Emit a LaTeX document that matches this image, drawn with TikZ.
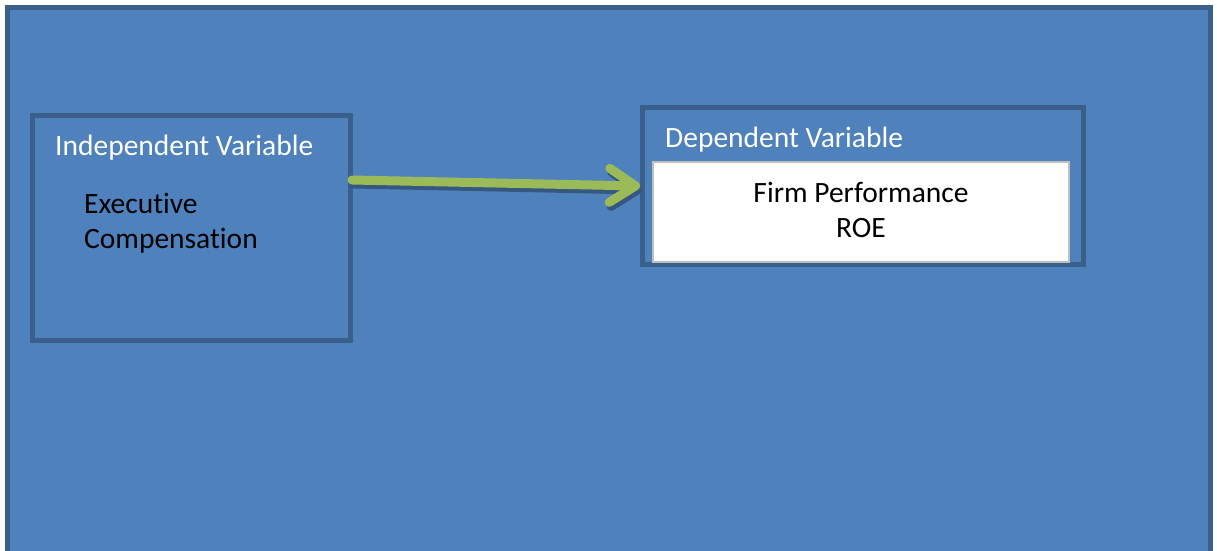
\documentclass[tikz,border=0pt]{standalone}
\usepackage{fontspec}
\setmainfont{Carlito}[Ligatures=NoCommon]
\usetikzlibrary{positioning}
\usetikzlibrary{arrows.meta}
\usetikzlibrary{calc}
\definecolor{panelblue}{HTML}{4F81BD}
\definecolor{frameblue}{HTML}{3A5F8B}
\definecolor{arrowgreen}{HTML}{9BBB59}
\definecolor{shadowblue}{HTML}{36577F}
\tikzstyle{varbox}=[draw=frameblue,fill=panelblue,line width=5pt,inner sep=0pt,outer sep=0pt]
\tikzstyle{valuebox}=[draw=black!25,fill=white,line width=1.5pt,inner sep=0pt,outer sep=0pt]
\tikzstyle{heading}=[text=white,font=\fontsize{29.5}{35}\selectfont,anchor=base west,inner sep=0pt]
\tikzstyle{content}=[text=black,font=\fontsize{29.5}{35}\selectfont,inner sep=0pt]
\tikzstyle{link}=[line width=9pt,line cap=round,line join=round,-{Straight Barb[length=26pt,width=34pt,round]}]

\begin{document}
\begin{tikzpicture}[x=1pt,y=-1pt]

	\useasboundingbox[fill=white] (0,0) rectangle (1217,550);
	\clip (0,0) rectangle (1217,550);

% Panel
	\draw[varbox] (7.5,7.5) rectangle (1210.5,580);

%Boxes
	\node[varbox,minimum width=318pt,minimum height=225pt] (indep) at (191,227.5) {};
	\node[varbox,minimum width=441pt,minimum height=157pt] (dep) at (862.5,185.5) {};
	\node[valuebox,minimum width=416pt,minimum height=100pt] (perf) at (861,212) {};

%Labels
	\node[heading] (indeplabel) at ($(indep.north west)+(23,40)$) {Independent Variable};
	\node[heading] (deplabel) at ($(dep.north west)+(23,40)$) {Dependent Variable};

	% base = last line
	\node[content,anchor=base west,align=left] (comp) at ($(indep.north west)+(52,133)$) {Executive\\Compensation};
	\node[content,anchor=base,align=center] (roe) at ($(perf.north)+(0,75)$) {Firm Performance\\ROE};

% Edge
	\coordinate (from) at ($(indep.north east)+(2,65)$);
	\coordinate (to) at ($(dep.north west)+(-2,79)$);
	\draw[link,shadowblue] ($(from)+(2,4)$) -- ($(to)+(2,4)$);
	\draw[link,arrowgreen] (from) -- (to);

\end{tikzpicture}
\end{document}
